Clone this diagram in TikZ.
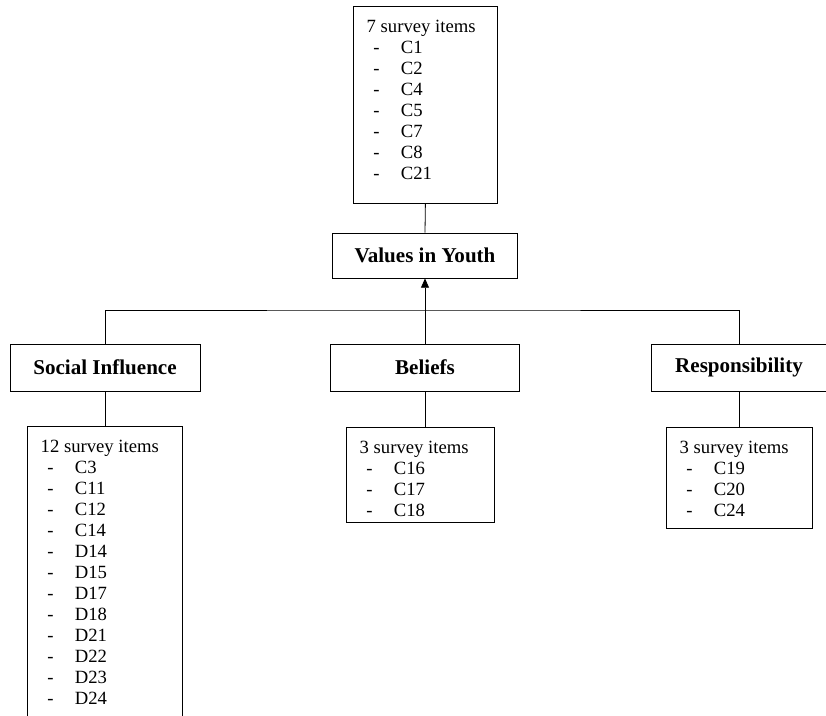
\documentclass[tikz,border=0pt]{standalone}
\usepackage{fontspec}
\setmainfont{Liberation Serif}
\usetikzlibrary{arrows.meta,positioning}

\newcommand{\itm}[1]{\par\hspace*{5pt}-\hspace*{16pt}#1}
\newcommand{\itemlist}[3]{\parbox[c][#2][t]{#1}{\leftskip=10pt\rule{0pt}{19.5pt}#3}}

\begin{document}
\begin{tikzpicture}[x=0.75pt, y=-0.75pt, line width=0.6pt]
    % Styles
    \tikzstyle{factor} = [draw, rectangle, inner sep=0pt, font=\bfseries\fontsize{15.8}{18}\selectfont]
    \tikzstyle{items} = [draw, rectangle, inner sep=0pt, anchor=north west, font=\fontsize{14}{15.75}\selectfont]

    \clip (0,0) rectangle (826,716);

    % Construct
    \node [factor, minimum width=138.75pt, minimum height=33.75pt] (Val) at (425,255.5) {Values in Youth};

    % Factors
    \node [factor, minimum width=142.5pt, minimum height=35.25pt] (Soc) at (105,367.5) {Social Influence};
    \node [factor, minimum width=141.75pt, minimum height=35.25pt] (Bel) at (425,367.5) {Beliefs};
    \node [factor, minimum width=132pt, minimum height=35.25pt] (Res) at (739,367.5) {Responsibility};

    % Survey items
    \node [items] (ValItems) at (353,6) {\itemlist{108pt}{147.75pt}{7 survey items
        \itm{C1}\itm{C2}\itm{C4}\itm{C5}\itm{C7}\itm{C8}\itm{C21}}};
    \node [items] (SocItems) at (27,426) {\itemlist{116.25pt}{225pt}{12 survey items
        \itm{C3}\itm{C11}\itm{C12}\itm{C14}\itm{D14}\itm{D15}
        \itm{D17}\itm{D18}\itm{D21}\itm{D22}\itm{D23}\itm{D24}}};
    \node [items] (BelItems) at (346,427) {\itemlist{111pt}{71.25pt}{3 survey items
        \itm{C16}\itm{C17}\itm{C18}}};
    \node [items] (ResItems) at (666,427) {\itemlist{109.5pt}{75.75pt}{3 survey items
        \itm{C19}\itm{C20}\itm{C24}}};

    % Edges
    \coordinate (Bus) at (425,310);
    \draw (Soc.north) |- (Bus) -| (Res.north);
    \draw [-{Triangle[length=7pt, width=6pt]}] (Bel.north) -- (Val.south);
    \draw (ValItems.south) -- (Val.north);

    % Factor - items
    \draw (Soc.south) -- (Soc.south |- SocItems.north);
    \draw (Bel.south) -- (Bel.south |- BelItems.north);
    \draw (Res.south) -- (Res.south |- ResItems.north);

\end{tikzpicture}
\end{document}
